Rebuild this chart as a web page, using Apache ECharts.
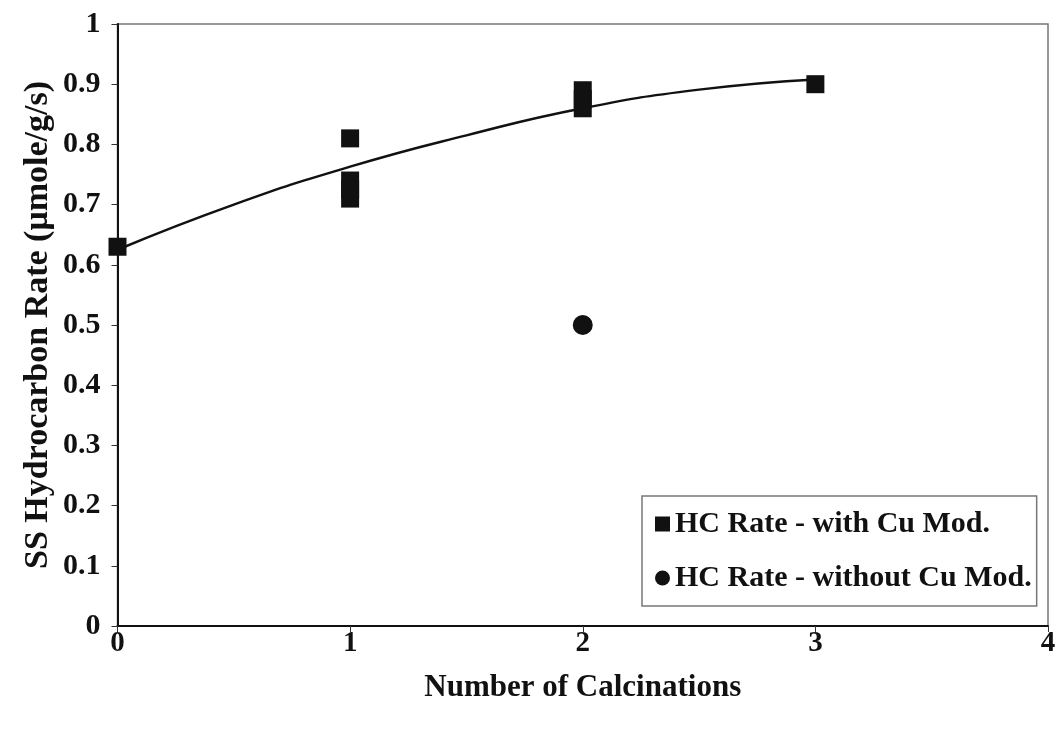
<!DOCTYPE html>
<html>
<head>
<meta charset="utf-8">
<script src="https://cdn.jsdelivr.net/npm/echarts@6/dist/echarts.min.js"></script>
<style>
  html, body { margin: 0; padding: 0; background: #fff; }
  #chart { width: 1061px; height: 729px; }
</style>
</head>
<body>
<div id="chart"></div>
<script>
// Steady-state HC rate vs. number of calcinations
const withCu = [
  [0, 0.63],
  [1, 0.81], [1, 0.74], [1, 0.725], [1, 0.71],
  [2, 0.89], [2, 0.875], [2, 0.86],
  [3, 0.90]
];
const withoutCu = [
  [2, 0.50]
];
// Polynomial trendline through the Cu-modified runs
const trendWithCu = [
  [0, 0.625], [0.5, 0.700], [1, 0.763], [1.5, 0.815],
  [2, 0.860], [2.5, 0.891], [3, 0.908]
];
const xTicks = [0, 1, 2, 3, 4];
const yTicks = [0, 0.1, 0.2, 0.3, 0.4, 0.5, 0.6, 0.7, 0.8, 0.9, 1];

const serif = '"Liberation Serif", "Times New Roman", serif';

const chart = echarts.init(document.getElementById('chart'));
chart.setOption({
  backgroundColor: '#fff',
  animation: false,
  grid: {
    left: 117.5, right: 13, top: 24, bottom: 103,
    show: true, borderColor: '#777', borderWidth: 1.5, backgroundColor: 'transparent'
  },
  xAxis: {
    type: 'value',
    min: xTicks[0], max: xTicks[xTicks.length - 1], interval: 1,
    name: 'Number of Calcinations',
    nameLocation: 'middle', nameGap: 46,
    nameMoveOverlap: false,
    nameTextStyle: { fontFamily: serif, fontWeight: 'bold', fontSize: 31, color: '#111' },
    axisLine: { show: true, onZero: false, lineStyle: { color: '#111', width: 2 } },
    axisTick: { show: true, inside: false, length: 6, lineStyle: { color: '#333', width: 1 } },
    axisLabel: { fontFamily: serif, fontWeight: 'bold', fontSize: 29, color: '#111', margin: 3 },
    splitLine: { show: false }
  },
  yAxis: {
    type: 'value',
    min: yTicks[0], max: yTicks[yTicks.length - 1], interval: 0.1,
    name: 'SS Hydrocarbon Rate (\u03bcmole/g/s)',
    nameLocation: 'middle', nameGap: 62, nameRotate: 90,
    nameMoveOverlap: false,
    nameTextStyle: { fontFamily: serif, fontWeight: 'bold', fontSize: 34, color: '#111' },
    axisLine: { show: true, onZero: false, lineStyle: { color: '#111', width: 2 } },
    axisTick: { show: true, inside: false, length: 6, lineStyle: { color: '#333', width: 1 } },
    axisLabel: { fontFamily: serif, fontWeight: 'bold', fontSize: 30, color: '#111', margin: 17,
      formatter: v => String(Math.round(v * 10) / 10) },
    splitLine: { show: false }
  },
  legend: {
    orient: 'vertical',
    left: 642, top: 496,
    padding: [13, 5, 13, 13],
    itemGap: 24,
    itemWidth: 15, itemHeight: 15,
    backgroundColor: '#fff',
    borderColor: '#777', borderWidth: 1.5,
    textStyle: { fontFamily: serif, fontWeight: 'bold', fontSize: 30, color: '#111' },
    data: [
      { name: 'HC Rate - with Cu Mod.', icon: 'rect' },
      { name: 'HC Rate - without Cu Mod.', icon: 'circle' }
    ]
  },
  series: [
    {
      name: 'trend',
      type: 'line',
      data: trendWithCu,
      smooth: true,
      showSymbol: false,
      lineStyle: { color: '#111', width: 2.5 },
      z: 1
    },
    {
      name: 'HC Rate - with Cu Mod.',
      type: 'scatter',
      data: withCu,
      symbol: 'rect',
      symbolSize: 18,
      itemStyle: { color: '#111', opacity: 1 },
      z: 3
    },
    {
      name: 'HC Rate - without Cu Mod.',
      type: 'scatter',
      data: withoutCu,
      symbol: 'circle',
      symbolSize: 20,
      itemStyle: { color: '#111', opacity: 1 },
      z: 3
    }
  ]
});
</script>
</body>
</html>
